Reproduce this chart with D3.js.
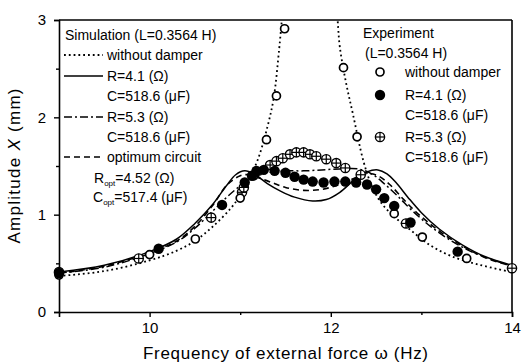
<!DOCTYPE html>
<html>
<head>
<meta charset="utf-8">
<script src="https://cdn.jsdelivr.net/npm/d3@7"></script>
<style>
  body { margin: 0; background: #fff; }
  text { font-family: "Liberation Sans", Arial, Helvetica, sans-serif; fill: #000; }
</style>
</head>
<body>
<svg id="chart" width="522" height="362"></svg>
<script>
// Simulated amplitude curves [frequency Hz, amplitude mm]
const simNoDamper = [
  [9.0,0.37],[9.5,0.42],[10.0,0.53],[10.3,0.63],[10.5,0.73],[10.7,0.88],[10.9,1.07],
  [11.0,1.20],[11.1,1.37],[11.2,1.58],[11.3,1.90],[11.37,2.20],[11.43,2.70],[11.46,3.0],
  [11.52,3.5],[11.78,4.2],[12.03,3.5],[12.075,3.0],[12.10,2.72],[12.165,2.37],[12.245,2.03],
  [12.36,1.55],[12.45,1.30],[12.55,1.13],[12.7,0.98],[12.87,0.85],[13.09,0.69],[13.34,0.57],
  [13.64,0.485],[14.0,0.41]
];
const simR41 = [
  [9.0,0.41],[9.5,0.48],[10.0,0.62],[10.3,0.75],[10.5,0.91],[10.7,1.11],[10.85,1.30],
  [10.95,1.41],[11.05,1.45],[11.15,1.42],[11.3,1.32],[11.45,1.24],[11.6,1.18],[11.8,1.14],
  [11.95,1.155],[12.1,1.23],[12.25,1.35],[12.4,1.44],[12.52,1.46],[12.62,1.42],[12.72,1.33],
  [12.85,1.18],[13.0,1.02],[13.2,0.85],[13.45,0.69],[13.7,0.57],[14.0,0.48]
];
const simR53 = [
  [9.0,0.40],[9.5,0.46],[10.0,0.60],[10.3,0.72],[10.5,0.86],[10.7,1.04],[10.9,1.22],
  [11.1,1.36],[11.3,1.43],[11.5,1.45],[11.7,1.45],[11.9,1.46],[12.1,1.47],[12.3,1.47],
  [12.45,1.42],[12.6,1.31],[12.75,1.18],[12.9,1.04],[13.1,0.88],[13.35,0.72],[13.6,0.60],
  [14.0,0.47]
];
const simOptimum = [
  [9.0,0.40],[9.5,0.47],[10.0,0.61],[10.3,0.73],[10.5,0.88],[10.7,1.10],[10.85,1.30],
  [11.0,1.40],[11.1,1.41],[11.2,1.38],[11.35,1.33],[11.5,1.28],[11.7,1.25],[11.9,1.26],
  [12.1,1.31],[12.3,1.39],[12.42,1.42],[12.52,1.40],[12.65,1.31],[12.8,1.16],[12.95,1.02],
  [13.2,0.83],[13.45,0.68],[13.7,0.56],[14.0,0.47]
];

// Measured amplitudes [frequency Hz, amplitude mm]
const expNoDamper = [
  [9.0,0.38],[10.0,0.59],[10.505,0.75],[11.0,1.17],[11.15,1.40],[11.29,1.77],[11.40,2.22],
  [11.49,2.91],[12.14,2.51],[12.29,1.80],[12.70,1.01],[13.01,0.77],[13.50,0.55]
];
const expR41 = [
  [9.0,0.40],[10.10,0.65],[10.80,1.10],[11.05,1.33],[11.13,1.40],[11.18,1.45],[11.26,1.46],
  [11.38,1.45],[11.50,1.43],[11.60,1.39],[11.70,1.36],[11.80,1.34],[11.92,1.33],[12.04,1.34],
  [12.16,1.34],[12.28,1.33],[12.40,1.31],[12.50,1.26],[12.59,1.17],[12.70,1.09],[12.88,0.92],
  [13.40,0.62]
];
const expR53 = [
  [9.0,0.41],[9.88,0.55],[10.68,0.97],[11.02,1.23],[11.04,1.28],[11.33,1.51],[11.40,1.55],
  [11.47,1.58],[11.55,1.62],[11.62,1.64],[11.70,1.64],[11.77,1.62],[11.84,1.60],[11.95,1.57],
  [12.06,1.53],[12.16,1.48],[12.33,1.41],[12.83,0.91],[14.0,0.45]
];

const xTicks = [10, 11, 12, 13, 14];
const xTickLabels = [10, 12, 14];
const yTicks = [0, 0.5, 1, 1.5, 2, 2.5, 3];
const yTickLabels = [0, 1, 2, 3];

const svg = d3.select("#chart");
const plotLeft = 59, plotRight = 512, plotTop = 20, plotBottom = 312;

const x = d3.scaleLinear().domain([9, 14]).range([plotLeft, plotRight]);
const y = d3.scaleLinear().domain([0, 3]).range([plotBottom, plotTop]);

svg.append("defs").append("clipPath").attr("id", "plotClip")
  .append("rect").attr("x", plotLeft).attr("y", plotTop)
  .attr("width", plotRight - plotLeft).attr("height", plotBottom - plotTop);

// Axes
const xAxis = d3.axisBottom(x).tickValues(xTicks)
  .tickFormat(d => xTickLabels.includes(d) ? d : "")
  .tickSizeOuter(0).tickSize(5).tickPadding(5);
const gx = svg.append("g").attr("transform", `translate(0,${plotBottom})`).call(xAxis);
gx.selectAll(".tick line").attr("y2", d => xTickLabels.includes(d) ? 5 : 3);

const yAxis = d3.axisLeft(y).tickValues(yTicks)
  .tickFormat(d => yTickLabels.includes(d) ? d : "")
  .tickSizeOuter(0).tickSize(5).tickPadding(8);
const gy = svg.append("g").attr("transform", `translate(${plotLeft},0)`).call(yAxis);
gy.selectAll(".tick line").attr("x2", d => yTickLabels.includes(d) ? -5 : -3);

[gx, gy].forEach(g => {
  g.select(".domain").attr("stroke", "#000").attr("stroke-width", 1.6);
  g.selectAll(".tick line").attr("stroke", "#000").attr("stroke-width", 1.4);
  g.selectAll(".tick text").style("font-size", "15px")
    .style("font-family", '"Liberation Sans", Arial, sans-serif').attr("fill", "#000");
});

// Frame on top and right
svg.append("line").attr("x1", plotLeft).attr("x2", plotRight).attr("y1", plotTop).attr("y2", plotTop)
  .attr("stroke", "#000").attr("stroke-width", 1.6);
svg.append("line").attr("x1", plotRight).attr("x2", plotRight).attr("y1", plotTop).attr("y2", plotBottom)
  .attr("stroke", "#000").attr("stroke-width", 1.6);

// Axis titles
svg.append("text").attr("x", (plotLeft + plotRight) / 2).attr("y", 359)
  .attr("text-anchor", "middle").style("font-size", "17px")
  .attr("textLength", 285).attr("lengthAdjust", "spacing")
  .text("Frequency of external force ω (Hz)");

const yt = svg.append("text").attr("transform", `translate(20,${(plotTop + plotBottom) / 2}) rotate(-90)`)
  .attr("text-anchor", "middle").style("font-size", "17px")
  .attr("textLength", 155).attr("lengthAdjust", "spacing");
yt.append("tspan").text("Amplitude ");
yt.append("tspan").style("font-style", "italic").text("X");
yt.append("tspan").text(" (mm)");

// Curves
const line = d3.line().x(d => x(d[0])).y(d => y(d[1])).curve(d3.curveCatmullRom.alpha(0.5));
const plot = svg.append("g").attr("clip-path", "url(#plotClip)");
const curveStyles = [
  { data: simNoDamper, dash: "1.8,3", width: 1.8 },
  { data: simR41, dash: null, width: 1.5 },
  { data: simR53, dash: "8,3,2,3", width: 1.5 },
  { data: simOptimum, dash: "6,4", width: 1.6 }
];
curveStyles.forEach(s => {
  plot.append("path").datum(s.data).attr("d", line)
    .attr("fill", "none").attr("stroke", "#000")
    .attr("stroke-width", s.width)
    .attr("stroke-dasharray", s.dash);
});

// Markers
function openCircle(g, cx, cy) {
  g.append("circle").attr("cx", cx).attr("cy", cy).attr("r", 4)
    .attr("fill", "#fff").attr("stroke", "#000").attr("stroke-width", 1.7);
}
function filledCircle(g, cx, cy) {
  g.append("circle").attr("cx", cx).attr("cy", cy).attr("r", 5.2).attr("fill", "#000");
}
function plusCircle(g, cx, cy) {
  g.append("circle").attr("cx", cx).attr("cy", cy).attr("r", 4.6)
    .attr("fill", "#fff").attr("stroke", "#000").attr("stroke-width", 1.4);
  g.append("line").attr("x1", cx - 4.6).attr("x2", cx + 4.6).attr("y1", cy).attr("y2", cy)
    .attr("stroke", "#000").attr("stroke-width", 1.2);
  g.append("line").attr("x1", cx).attr("x2", cx).attr("y1", cy - 4.6).attr("y2", cy + 4.6)
    .attr("stroke", "#000").attr("stroke-width", 1.2);
}

const marks = svg.append("g");
expR53.forEach(d => plusCircle(marks, x(d[0]), y(d[1])));
expNoDamper.forEach(d => openCircle(marks, x(d[0]), y(d[1])));
expR41.forEach(d => filledCircle(marks, x(d[0]), y(d[1])));

// Simulation legend
const lg = svg.append("g").style("font-size", "14px");
lg.append("text").attr("x", 65).attr("y", 40).text("Simulation (L=0.3564 H)");
const simKeys = [
  { y: 55, dash: "1.8,3", width: 1.8, label: "without damper" },
  { y: 76, dash: null, width: 1.5, label: "R=4.1 (Ω)" },
  { y: 117, dash: "8,3,2,3", width: 1.5, label: "R=5.3 (Ω)" },
  { y: 157, dash: "6,4", width: 1.6, label: "optimum circuit" }
];
simKeys.forEach(k => {
  lg.append("line").attr("x1", 64).attr("x2", 103).attr("y1", k.y).attr("y2", k.y)
    .attr("stroke", "#000").attr("stroke-width", k.width).attr("stroke-dasharray", k.dash);
  lg.append("text").attr("x", 107).attr("y", k.y + 5).text(k.label);
});
lg.append("text").attr("x", 107).attr("y", 101).text("C=518.6 (μF)");
lg.append("text").attr("x", 107).attr("y", 142).text("C=518.6 (μF)");
const ropt = lg.append("text").attr("x", 94).attr("y", 183);
ropt.append("tspan").text("R");
ropt.append("tspan").attr("dy", 3).style("font-size", "8px").text("opt");
ropt.append("tspan").attr("dy", -3).text("=4.52 (Ω)");
const copt = lg.append("text").attr("x", 93).attr("y", 202);
copt.append("tspan").text("C");
copt.append("tspan").attr("dy", 3).style("font-size", "8px").text("opt");
copt.append("tspan").attr("dy", -3).text("=517.4 (μF)");

// Experiment legend
lg.append("text").attr("x", 363).attr("y", 38).text("Experiment");
lg.append("text").attr("x", 365).attr("y", 58).text("(L=0.3564 H)");
openCircle(lg, 380, 72);
lg.append("text").attr("x", 405).attr("y", 77).text("without damper");
filledCircle(lg, 380, 95);
lg.append("text").attr("x", 405).attr("y", 100).text("R=4.1 (Ω)");
lg.append("text").attr("x", 405).attr("y", 120).text("C=518.6 (μF)");
plusCircle(lg, 380, 137);
lg.append("text").attr("x", 405).attr("y", 142).text("R=5.3 (Ω)");
lg.append("text").attr("x", 405).attr("y", 162).text("C=518.6 (μF)");
</script>
</body>
</html>
